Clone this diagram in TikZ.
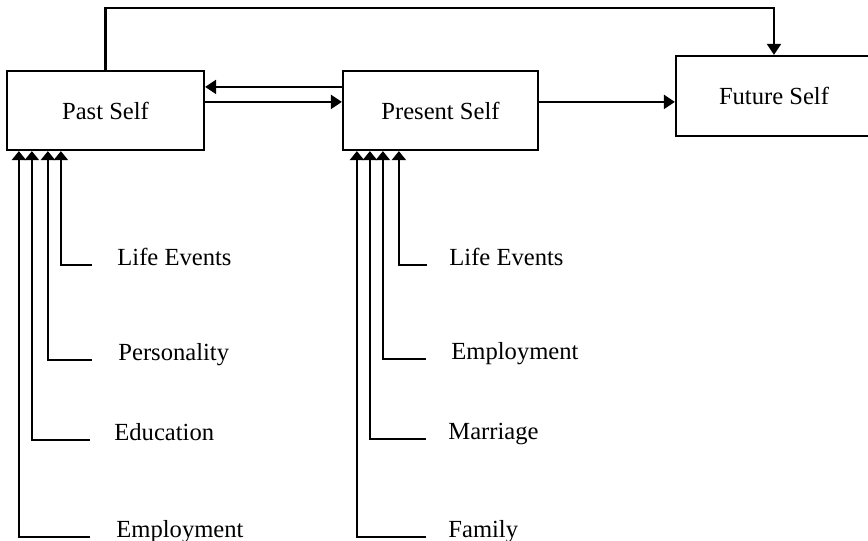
\documentclass[tikz,border=0pt]{standalone}
\usepackage{fontspec}
\setmainfont{Liberation Serif}
\usetikzlibrary{arrows.meta,calc}

\tikzset{
  selfbox/.style={draw, line width=1.1pt, rectangle, inner sep=0pt,
    minimum height=39.5pt, font=\fontsize{12.3pt}{14pt}\selectfont},
  factor/.style={anchor=base west, inner sep=0pt,
    font=\fontsize{12.3pt}{14pt}\selectfont},
  link/.style={line width=1.1pt, -{Triangle[length=5.5pt,width=7pt]}},
  feed/.style={line width=1pt, -{Triangle[length=4.5pt,width=7pt]}},
}

\begin{document}
\begin{tikzpicture}[x=0.5pt, y=-0.5pt]
  \useasboundingbox (0,0) rectangle (868,541);
  \clip (0,0) rectangle (868,541);

  % the three selves
  \node[selfbox, minimum width=98.5pt] (past)    at (105.5,110.5) {Past Self};
  \node[selfbox, minimum width=97.5pt] (present) at (440.5,110.5) {Present Self};
  \node[selfbox, minimum width=98pt, minimum height=40pt] (future) at (774,96) {Future Self};

  % links between the selves
  \coordinate (top) at (0,8);
  \draw[link] (past.north) -- (past.north |- top) -| (future.north);
  \draw[link] ($(present.north west)+(0,17)$) -- ($(past.north east)+(0,17)$);
  \draw[link] ($(past.north east)+(0,32)$) -- ($(present.north west)+(0,32)$);
  \draw[link] ($(present.north east)+(0,32)$) coordinate (pf) -- (pf -| future.west);

  % factors feeding the past self
  \node[factor] (pa) at (117,265) {Life Events};
  \node[factor] (pb) at (118,360) {Personality};
  \node[factor] (pc) at (114,440) {Education};
  \node[factor] (pd) at (116,537) {Employment};
  \coordinate (pa0) at (92,265);
  \coordinate (pb0) at (92,360);
  \coordinate (pc0) at (90,440);
  \coordinate (pd0) at (90,537);
  \draw[feed] (pa0) -| ($(past.south west)+(55,0)$);
  \draw[feed] (pb0) -| ($(past.south west)+(42,0)$);
  \draw[feed] (pc0) -| ($(past.south west)+(26,0)$);
  \draw[feed] (pd0) -| ($(past.south west)+(13,0)$);

  % factors feeding the present self
  \node[factor] (qa) at (449,265) {Life Events};
  \node[factor] (qb) at (451,359) {Employment};
  \node[factor] (qc) at (448,439) {Marriage};
  \node[factor] (qd) at (448,537) {Family};
  \coordinate (qa0) at (427,265);
  \coordinate (qb0) at (426,359);
  \coordinate (qc0) at (426,439);
  \coordinate (qd0) at (426,537);
  \draw[feed] (qa0) -| ($(present.south west)+(57,0)$);
  \draw[feed] (qb0) -| ($(present.south west)+(41,0)$);
  \draw[feed] (qc0) -| ($(present.south west)+(28,0)$);
  \draw[feed] (qd0) -| ($(present.south west)+(15,0)$);
\end{tikzpicture}
\end{document}
